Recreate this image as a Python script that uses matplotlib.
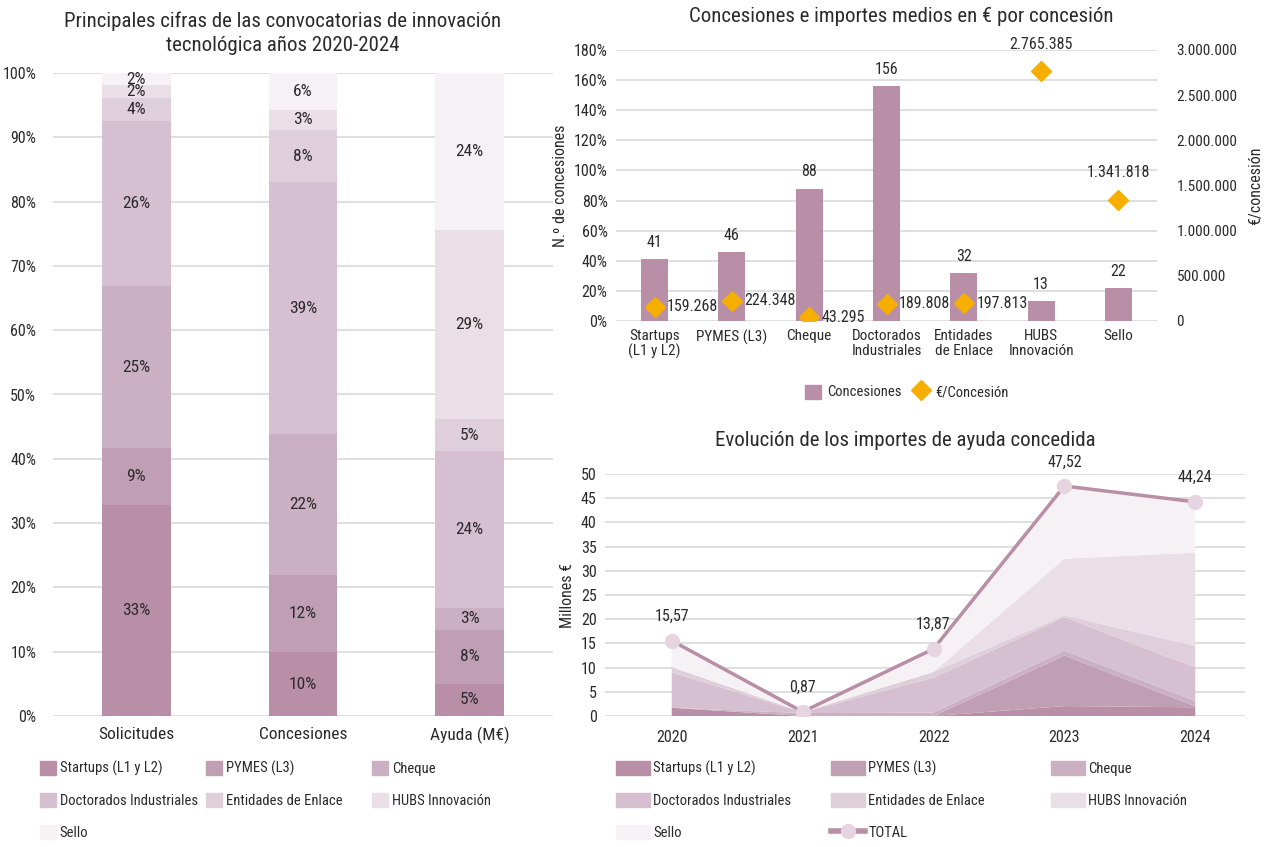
import matplotlib
matplotlib.use('Agg')
import matplotlib.pyplot as plt
from matplotlib import font_manager
from matplotlib.patches import Patch
from matplotlib.lines import Line2D
from matplotlib.ticker import FuncFormatter

# --- data -----------------------------------------------------------------
lineas = ['Startups (L1 y L2)', 'PYMES (L3)', 'Cheque', 'Doctorados Industriales',
          'Entidades de Enlace', 'HUBS Innovación', 'Sello']
colores = ['#b88fa7', '#c09fb4', '#cbb0c3', '#d5bfd0', '#dfcfdb', '#eadfe6', '#f6f1f5']

grupos = ['Solicitudes', 'Concesiones', 'Ayuda (M€)']
# % share of each line in each group
pct_solicitudes = [32.8, 8.9, 25.1, 25.7, 3.6, 2.0, 1.9]
pct_concesiones = [9.9, 12.1, 21.9, 39.1, 8.1, 3.2, 5.7]
pct_ayuda = [5.0, 8.4, 3.4, 24.4, 5.0, 29.4, 24.4]

cat_conc = ['Startups\n(L1 y L2)', 'PYMES (L3)', 'Cheque', 'Doctorados\nIndustriales',
            'Entidades\nde Enlace', 'HUBS\nInnovación', 'Sello']
n_concesiones = [41, 46, 88, 156, 32, 13, 22]
euro_concesion = [159268, 224348, 43295, 189808, 197813, 2765385, 1341818]

anios = [2020, 2021, 2022, 2023, 2024]
imp_startups = [1.7, 0.0, 0.0, 2.05, 1.8]
imp_pymes = [0.0, 0.0, 0.0, 10.45, 0.2]
imp_cheque = [0.0, 0.6, 0.7, 1.0, 1.1]
imp_doctorados = [7.3, 0.15, 7.2, 6.9, 6.9]
imp_entidades = [1.1, 0.05, 1.2, 0.4, 4.45]
imp_hubs = [0.0, 0.0, 0.0, 11.7, 19.3]
imp_sello = [5.47, 0.07, 4.77, 15.02, 10.49]
imp_total = [15.57, 0.87, 13.87, 47.52, 44.24]

# --- font: look for a narrow face -------------------------------------------
fam = 'DejaVu Sans'
stretch = 'normal'
nombres = {f.name for f in font_manager.fontManager.ttflist}
for n in ['Roboto Condensed', 'Liberation Sans Narrow', 'Open Sans Condensed',
          'DejaVu Sans Condensed', 'Noto Sans Condensed', 'Arial Narrow']:
    if n in nombres:
        fam = n
        break
else:
    for f in font_manager.fontManager.ttflist:
        if f.stretch in ('condensed', 'semi-condensed') and f.style == 'normal':
            fam = f.name
            stretch = f.stretch
            break
plt.rcParams['font.family'] = [fam, 'DejaVu Sans']
plt.rcParams['font.stretch'] = stretch
TXT = '#2b2b2b'
plt.rcParams['text.color'] = TXT
plt.rcParams['axes.labelcolor'] = TXT
plt.rcParams['xtick.color'] = TXT
plt.rcParams['ytick.color'] = TXT
GRID = '#d9d9d9'
W, H = 1272, 847


def box(x0, y0, x1, y1):
    return [x0 / W, 1 - y1 / H, (x1 - x0) / W, (y1 - y0) / H]


def clean(ax):
    for s in ax.spines.values():
        s.set_visible(False)
    ax.tick_params(length=0)
    ax.yaxis.grid(True, color=GRID, lw=1.2)
    ax.set_axisbelow(True)


def miles(v):
    return f'{v:,.0f}'.replace(',', '.')


fig = plt.figure(figsize=(12.72, 8.47), dpi=100, facecolor='white')

# --- left: 100% stacked bars ------------------------------------------------
ax1 = fig.add_axes(box(53, 73, 553, 716))
clean(ax1)
tabla = list(zip(pct_solicitudes, pct_concesiones, pct_ayuda))
xs = list(range(len(grupos)))
bottom = [0.0] * len(grupos)
for i, fila in enumerate(tabla):
    ax1.bar(xs, fila, bottom=bottom, width=0.41, color=colores[i], label=lineas[i])
    for j, v in enumerate(fila):
        ax1.text(xs[j], bottom[j] + v / 2, f'{round(v)}%', ha='center', va='center',
                 fontsize=12.5)
    bottom = [b + v for b, v in zip(bottom, fila)]
ax1.set_xlim(-0.5, 2.5)
ax1.set_ylim(0, 100)
ax1.set_yticks(range(0, 101, 10))
ax1.yaxis.set_major_formatter(FuncFormatter(lambda v, p: f'{v:.0f}%'))
ax1.set_xticks(xs)
ax1.set_xticklabels(grupos, fontsize=12.5)
ax1.tick_params(axis='x', pad=8)
ax1.tick_params(axis='y', labelsize=11.5, pad=12)
fig.text(283 / W, 1 - 33 / H, 'Principales cifras de las convocatorias de innovación\ntecnológica años 2020-2024',
         ha='center', va='center', fontsize=15, linespacing=1.3)

handles = [Patch(color=c) for c in colores]
cols = [[0, 3, 6], [1, 4], [2, 5]]
for k, idx in enumerate(cols):
    fig.legend([handles[i] for i in idx], [lineas[i] for i in idx],
               loc='upper left', bbox_to_anchor=([40, 206, 372][k] / W, 1 - 761 / H),
               frameon=False, fontsize=10.5, handlelength=1.1, handleheight=1.1,
               handletextpad=0.25, labelspacing=1.15, borderpad=0, borderaxespad=0)

# --- top right: concesiones and € / concesion ---------------------------------
ax2 = fig.add_axes(box(616, 50, 1157, 321))
clean(ax2)
xc = list(range(len(cat_conc)))
ax2.bar(xc, n_concesiones, width=0.35, color='#b88fa7', label='Concesiones', zorder=2)
for x, v in zip(xc, n_concesiones):
    ax2.text(x, v + 6, str(v), ha='center', va='bottom', fontsize=11.5)
ax2.set_xlim(-0.5, len(cat_conc) - 0.5)
ax2.set_ylim(0, 180)
ax2.set_yticks(range(0, 181, 20))
ax2.yaxis.set_major_formatter(FuncFormatter(lambda v, p: f'{v:.0f}%'))
ax2.tick_params(axis='y', labelsize=11.5, pad=6)
ax2.set_xticks(xc)
ax2.set_xticklabels(cat_conc, fontsize=11, linespacing=1.05)
ax2.tick_params(axis='x', pad=6)
ax2.set_ylabel('N.º de concesiones', fontsize=11.5, labelpad=4)

ax2b = ax2.twinx()
for s in ax2b.spines.values():
    s.set_visible(False)
ax2b.tick_params(length=0, labelsize=11, pad=14)
ax2b.plot(xc, euro_concesion, 'D', color='#f6ae00', markersize=10.5,
          label='€/Concesión', zorder=3)
for x, v in zip(xc, euro_concesion):
    if v > 1000000:
        ax2b.annotate(miles(v), (x, v), xytext=(0, 14), textcoords='offset points',
                      ha='center', va='bottom', fontsize=11.5)
    else:
        ax2b.annotate(miles(v), (x, v), xytext=(9, 0), textcoords='offset points',
                      ha='left', va='center', fontsize=11.5)
ax2b.set_ylim(0, 3000000)
ax2b.set_yticks(range(0, 3000001, 500000))
ax2b.yaxis.set_major_formatter(FuncFormatter(lambda v, p: miles(v)))
ax2b.set_ylabel('€/concesión', fontsize=11.5, labelpad=8)
fig.text(901 / W, 1 - 17 / H, 'Concesiones e importes medios en € por concesión',
         ha='center', va='center', fontsize=15)
fig.legend([Patch(color='#b88fa7'),
            Line2D([], [], ls='', marker='D', color='#f6ae00', markersize=10.5)],
           ['Concesiones', '€/Concesión'], loc='center', bbox_to_anchor=(907 / W, 1 - 392 / H),
           ncol=2, frameon=False, fontsize=10.5, handlelength=1.1, handleheight=1.1,
           handletextpad=0.4, columnspacing=0.8, borderpad=0)

# --- bottom right: evolution of granted aid ------------------------------------
ax3 = fig.add_axes(box(605, 474, 1245, 716))
clean(ax3)
series = [imp_startups, imp_pymes, imp_cheque, imp_doctorados, imp_entidades, imp_hubs, imp_sello]
ax3.stackplot(anios, series, colors=colores, labels=lineas, lw=0)
ax3.plot(anios, imp_total, '-o', color='#b88fa7', lw=2.5, markersize=10,
         markerfacecolor='#e6d5e0', markeredgecolor='#e6d5e0', label='TOTAL', zorder=4)
for x, v in zip(anios, imp_total):
    ax3.annotate(f'{v:.2f}'.replace('.', ','), (x, v), xytext=(0, 12),
                 textcoords='offset points', ha='center', va='bottom', fontsize=11.5,
                 annotation_clip=False)
ax3.set_xlim(2019.49, 2024.38)
ax3.set_ylim(0, 50)
ax3.set_yticks(range(0, 51, 5))
ax3.set_xticks(anios)
ax3.tick_params(axis='x', labelsize=11.5, pad=10)
ax3.tick_params(axis='y', labelsize=11.5, pad=6)
ax3.set_ylabel('Millones €', fontsize=11.5, labelpad=4)
fig.text(905 / W, 1 - 440 / H, 'Evolución de los importes de ayuda concedida',
         ha='center', va='center', fontsize=15)

total_h = Line2D([], [], color='#b88fa7', lw=4, marker='o', markersize=10,
                 markerfacecolor='#e6d5e0', markeredgecolor='#e6d5e0')
hs = handles + [total_h]
labs = lineas + ['TOTAL']
cols3 = [[0, 3, 6], [1, 4, 7], [2, 5]]
for k, idx in enumerate(cols3):
    fig.legend([hs[i] for i in idx], [labs[i] for i in idx],
               loc='upper left', bbox_to_anchor=([616, 831, 1051][k] / W, 1 - 761 / H),
               frameon=False, fontsize=10.5, handlelength=2.3, handleheight=1.1,
               handletextpad=0.25, labelspacing=1.15, borderpad=0, borderaxespad=0)

fig.savefig('out.png', dpi=100, facecolor='white')
